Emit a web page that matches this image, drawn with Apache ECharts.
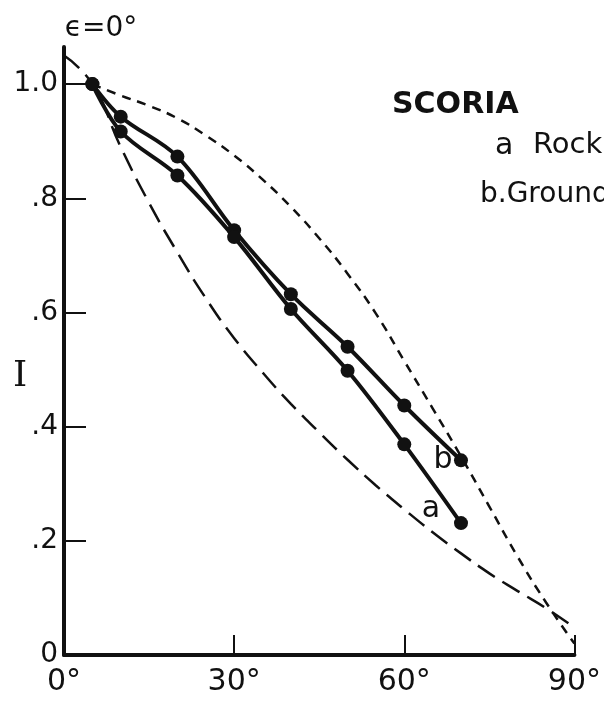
<!DOCTYPE html>
<html>
<head>
<meta charset="utf-8">
<script src="https://cdn.jsdelivr.net/npm/echarts@6/dist/echarts.min.js"></script>
<style>
  html, body { margin: 0; padding: 0; background: #fff; }
  #chart { width: 604px; height: 706px; }
</style>
</head>
<body>
<div id="chart"></div>
<script>
// measured points, viewing angle i (deg) vs intensity I
const angles = [5, 10, 20, 30, 40, 50, 60, 70];
const rockI = [1.0, 0.917, 0.840, 0.732, 0.606, 0.498, 0.369, 0.231];   // a
const groundI = [1.0, 0.943, 0.873, 0.744, 0.632, 0.540, 0.437, 0.341]; // b

// short-dash reference curve
const shortAngles = [5, 10, 15, 20, 25, 30, 35, 40, 45, 50, 55, 60, 65, 70, 75, 80, 85, 90];
const shortI = [1.0, 0.98, 0.962, 0.94, 0.91, 0.875, 0.833, 0.785, 0.73, 0.668, 0.598, 0.515, 0.432, 0.348, 0.26, 0.172, 0.092, 0.02];

// long-dash reference curve
const longAngles = [0, 5, 10, 15, 20, 25, 30, 35, 40, 45, 50, 55, 60, 65, 70, 75, 80, 85, 90];
const longI = [1.05, 1.0, 0.89, 0.792, 0.705, 0.625, 0.555, 0.495, 0.44, 0.39, 0.342, 0.297, 0.255, 0.215, 0.178, 0.143, 0.112, 0.082, 0.048];

const xTicks = [0, 30, 60, 90];
const yTicks = [0.2, 0.4, 0.6, 0.8, 1.0];
const yLabels = [0, 0.2, 0.4, 0.6, 0.8, 1.0];

const ink = '#111';
const sans = "'DejaVu Sans', sans-serif";

function pairs(xs, ys) {
  return xs.map((x, i) => [x, ys[i]]);
}

const chart = echarts.init(document.getElementById('chart'));

const option = {
  animation: false,
  backgroundColor: '#fff',
  grid: { left: 64, right: 27, top: 47, bottom: 51 },
  xAxis: {
    type: 'value',
    min: 0,
    max: 90,
    interval: 30,
    axisLine: { show: true, lineStyle: { color: ink, width: 4 } },
    axisTick: { show: true, inside: true, length: 20, lineStyle: { color: ink, width: 2 }, customValues: xTicks },
    axisLabel: {
      customValues: xTicks,
      margin: 12,
      color: ink,
      fontFamily: sans,
      fontSize: 30,
      formatter: v => v + '°'
    },
    splitLine: { show: false }
  },
  yAxis: {
    type: 'value',
    min: 0,
    max: 1.065,
    axisLine: { show: true, lineStyle: { color: ink, width: 4 } },
    axisTick: { show: true, inside: true, length: 22, lineStyle: { color: ink, width: 2 }, customValues: yTicks },
    axisLabel: {
      customValues: yLabels,
      margin: 6,
      color: ink,
      fontFamily: sans,
      fontSize: 28,
      formatter: function (v) {
        if (v === 0) return '0';
        if (v === 1) return '1.0';
        return '.' + Math.round(v * 10);
      }
    },
    splitLine: { show: false }
  },
  series: [
    {
      name: 'short',
      type: 'line',
      data: pairs(shortAngles, shortI),
      smooth: 0.5,
      showSymbol: false,
      lineStyle: { color: ink, width: 2.5, type: [9, 7] }
    },
    {
      name: 'long',
      type: 'line',
      data: pairs(longAngles, longI),
      smooth: 0.5,
      showSymbol: false,
      lineStyle: { color: ink, width: 2.5, type: [20, 9] }
    },
    {
      name: 'b',
      type: 'line',
      data: pairs(angles, groundI),
      smooth: 0.35,
      symbol: 'circle',
      symbolSize: 14,
      itemStyle: { color: ink },
      lineStyle: { color: ink, width: 4 }
    },
    {
      name: 'a',
      type: 'line',
      data: pairs(angles, rockI),
      smooth: 0.35,
      symbol: 'circle',
      symbolSize: 14,
      itemStyle: { color: ink },
      lineStyle: { color: ink, width: 4 }
    }
  ],
  graphic: [
    { type: 'text', x: 101, y: 29, style: { text: 'ϵ=0°', font: '28px ' + sans, fill: ink, align: 'center', verticalAlign: 'middle' } },
    { type: 'text', x: 20, y: 377, style: { text: 'I', font: "36px 'DejaVu Serif', serif", fill: ink, align: 'center', verticalAlign: 'middle' } },
    { type: 'text', x: 392, y: 105, style: { text: 'SCORIA', font: 'bold 30px ' + sans, fill: ink, align: 'left', verticalAlign: 'middle' } },
    { type: 'text', x: 495, y: 146, style: { text: 'a', font: '30px ' + sans, fill: ink, align: 'left', verticalAlign: 'middle' } },
    { type: 'text', x: 533, y: 145, style: { text: 'Rock', font: '29px ' + sans, fill: ink, align: 'left', verticalAlign: 'middle' } },
    { type: 'text', x: 480, y: 195, style: { text: 'b.Ground', font: '28px ' + sans, fill: ink, align: 'left', verticalAlign: 'middle' } },
    { type: 'text', x: 443, y: 460, style: { text: 'b', font: '30px ' + sans, fill: ink, align: 'center', verticalAlign: 'middle' } },
    { type: 'text', x: 431, y: 509, style: { text: 'a', font: '30px ' + sans, fill: ink, align: 'center', verticalAlign: 'middle' } }
  ]
};

chart.setOption(option);
</script>
</body>
</html>
